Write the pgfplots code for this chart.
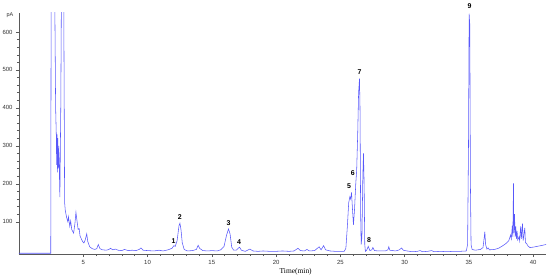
\documentclass[border=0pt]{standalone}
\usepackage{fontspec}
\setmainfont{Liberation Sans}
\newfontfamily\timesfont{Liberation Serif}
\usepackage{pgfplots}
\pgfplotsset{compat=1.18}
\definecolor{trace}{RGB}{88,88,250}
\definecolor{axgray}{RGB}{90,90,90}

\begin{document}
\begin{tikzpicture}
\begin{axis}[
  scale only axis, width=527bp, height=241bp,
  xmin=0, xmax=41, ymin=15, ymax=650,
  axis lines*=left, axis line style={axgray, line width=0.5pt},
  clip mode=individual,
  xtick={5,10,...,40}, minor x tick num=4,
  ytick={100,200,...,600}, minor y tick num=4,
  tick align=outside, major tick length=3bp, minor tick length=2bp,
  tick style={axgray, line width=0.4pt},
  tick label style={font=\fontsize{6}{7}\selectfont, text=black!80},
  /pgf/number format/assume math mode=true,
  xtick pos=bottom, ytick pos=left,
  xlabel={\timesfont Time(min)}, xlabel style={font=\fontsize{7.5}{8}\selectfont, at={(rel axis cs:0.525,0)}, anchor=center, yshift=-18bp},
]
\addplot[trace, line width=0.55pt] coordinates {
(0,17) (2.40,17) (2.47,17) (2.50,700) (2.78,700) (2.85,400) (2.90,330) (2.93,250) (2.96,330)
(2.99,230) (3.02,320) (3.05,240) (3.10,300) (3.18,165) (3.25,400) (3.30,700) (3.48,700)
(3.55,150) (3.60,130) (3.70,112) (3.80,100) (3.85,113) (3.95,88) (4.02,102) (4.10,80)
(4.25,70) (4.35,95) (4.43,125) (4.52,100) (4.60,80) (4.68,82) (4.75,62) (4.85,55)
(4.95,48) (5.05,44) (5.15,52) (5.27,68) (5.35,48) (5.50,34) (5.70,29) (5.90,27)
(6.05,29) (6.17,40) (6.30,29) (6.50,26) (6.80,25) (7.00,27) (7.12,30) (7.30,26)
(7.50,28) (7.70,25) (8.00,24) (8.20,27) (8.50,24) (8.80,25) (9.10,24) (9.35,27)
(9.49,31) (9.65,25) (10.0,24) (10.5,23) (10.9,25) (11.2,23) (11.6,26) (11.9,30)
(12.05,37) (12.15,35) (12.30,50) (12.45,90) (12.52,96) (12.60,80) (12.70,45) (12.85,27)
(13.1,23) (13.5,24) (13.8,27) (13.94,38) (14.05,30) (14.3,24) (14.7,23) (15.0,24)
(15.4,23) (15.7,26) (15.95,35) (16.15,65) (16.30,81) (16.42,68) (16.55,33) (16.7,25)
(16.9,25) (17.05,30) (17.16,33) (17.3,25) (17.6,22) (17.96,28) (18.2,23) (18.6,22)
(19.0,23) (19.5,22) (20.0,22) (20.5,23) (21.0,22) (21.4,23) (21.7,30) (21.9,24)
(22.2,23) (22.4,27) (22.6,23) (23.0,24) (23.35,34) (23.5,26) (23.7,37) (23.85,26)
(24.2,23) (24.6,22) (25.0,22) (25.3,22) (25.43,30) (25.55,90) (25.65,150) (25.74,166)
(25.80,160) (25.87,177) (25.95,130) (26.02,92) (26.10,130) (26.20,200) (26.27,235) (26.35,330)
(26.42,440) (26.49,477) (26.53,400) (26.58,120) (26.62,40) (26.68,60) (26.75,220) (26.80,280)
(26.85,200) (26.90,40) (26.95,22) (27.05,25) (27.17,35) (27.30,24) (27.45,26) (27.53,32)
(27.65,24) (28.0,23) (28.5,23) (28.7,26) (28.77,34) (28.85,25) (29.3,23) (29.6,26)
(29.76,31) (29.9,25) (30.2,23) (30.6,21) (31.0,22) (31.2,24) (31.4,21) (31.8,22)
(32.1,24) (32.3,21) (32.8,22) (33.3,21) (33.8,22) (34.3,22) (34.8,23) (34.90,40)
(34.97,300) (35.02,648) (35.07,620) (35.12,200) (35.17,40) (35.25,27) (35.5,25) (35.9,27)
(36.1,32) (36.2,60) (36.24,74) (36.3,40) (36.4,28) (36.5,31) (36.6,26) (37.0,27)
(37.3,30) (37.6,36) (37.9,43) (38.1,50) (38.25,65) (38.30,55) (38.38,90) (38.42,60)
(38.47,201) (38.50,70) (38.55,120) (38.60,60) (38.65,88) (38.70,55) (38.75,75) (38.80,52)
(38.90,60) (38.95,50) (39.03,88) (39.08,55) (39.17,95) (39.22,50) (39.30,70) (39.35,84)
(39.40,45) (39.50,42) (39.60,36) (39.75,32) (40.0,33) (40.3,35) (40.6,37) (41.0,40)
};
\begin{scope}[every node/.style={font=\fontsize{7}{8}\selectfont\bfseries}]
\node at (axis cs:12.03,50) {1};
\node at (axis cs:12.52,113) {2};
\node at (axis cs:16.31,97.5) {3};
\node at (axis cs:17.13,46) {4};
\node at (axis cs:25.68,194) {5};
\node at (axis cs:25.97,229) {6};
\node at (axis cs:26.49,494) {7};
\node at (axis cs:27.24,52) {8};
\node at (axis cs:35.05,667) {9};
\end{scope}
\node[font=\fontsize{5.5}{6}\selectfont, text=black!80] at (rel axis cs:0,1) [xshift=-9bp, yshift=-2bp] {pA};
\coordinate (bl) at (rel axis cs:0,0);
\coordinate (tr) at (rel axis cs:1,1);
\end{axis}
\pgfresetboundingbox
\path ([shift={(-19bp,-26bp)}]bl) rectangle ([shift={(4bp,13bp)}]tr);
\end{tikzpicture}
\end{document}
